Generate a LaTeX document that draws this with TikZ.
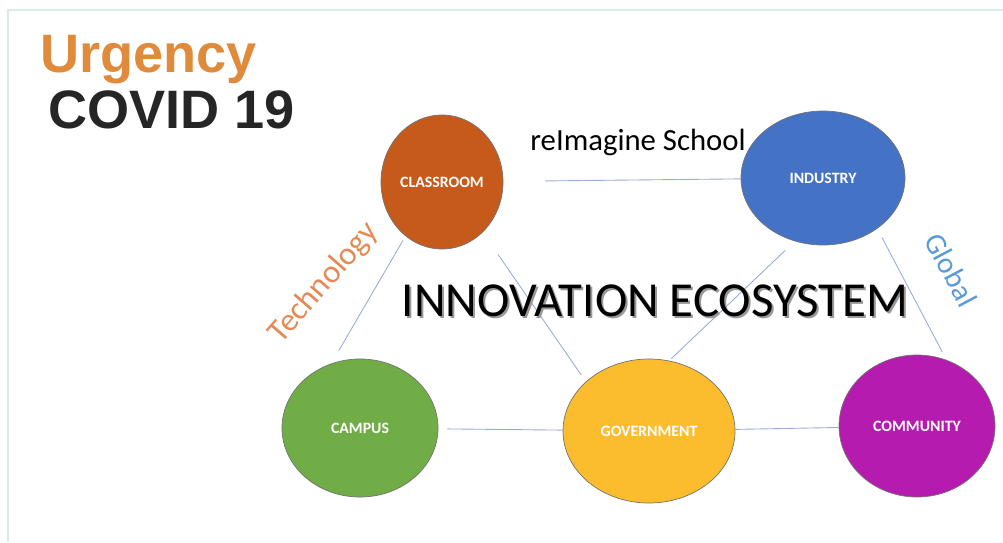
\documentclass[tikz,border=0pt]{standalone}
\usepackage{fontspec}
\setmainfont{Carlito}
\newfontfamily\headfont{Liberation Sans}
\usetikzlibrary{shapes.geometric}

\definecolor{urgorange}{HTML}{E08A3C}
\definecolor{headblack}{HTML}{262626}
\definecolor{framegreen}{HTML}{DCEBE6}
\definecolor{linkblue}{HTML}{97ACD8}
\definecolor{techorange}{HTML}{E58A55}
\definecolor{globalblue}{HTML}{5B9BD5}
\definecolor{classfill}{HTML}{C55A1B}
\definecolor{industryfill}{HTML}{4472C4}
\definecolor{campusfill}{HTML}{70AD47}
\definecolor{govfill}{HTML}{FBBD2E}
\definecolor{commfill}{HTML}{B51BAE}

% text with a grey drop shadow behind it
\newcommand{\shadowtext}[1]{\rlap{\hspace{0.04cm}\raisebox{-0.04cm}{\color{black!40}#1}}#1}

\tikzset{
    hub/.style={ellipse, draw=black!55, line width=0.4pt, inner sep=0pt,
        text=white, font=\fontsize{9}{10}\selectfont\bfseries},
    link/.style={draw=linkblue, line width=0.5pt}
}

\begin{document}
\begin{tikzpicture}[x=0.02cm, y=-0.02cm]
        % The page
        \useasboundingbox (0,0) rectangle (1003,542);
        \draw[framegreen, line width=0.04cm] (8,542) -- (8,10) -- (1003,10);

        % The headings
        \node[anchor=base west, inner sep=0pt, text=urgorange,
            font=\headfont\fontsize{30.8}{34}\selectfont\bfseries] (urgency) at (40,72) {Urgency};
        \node[anchor=base west, inner sep=0pt, text=headblack,
            font=\headfont\fontsize{30.8}{34}\selectfont\bfseries] (covid) at (48,128) {COVID 19};

        % The circles
        \node[hub, fill=classfill, minimum width=122*0.02cm, minimum height=134*0.02cm]
            (classroom) at (442,182) {CLASSROOM};
        \node[hub, fill=industryfill, minimum width=164*0.02cm, minimum height=134*0.02cm]
            (industry) at (823,178) {INDUSTRY};
        \node[hub, fill=campusfill, minimum width=156*0.02cm, minimum height=138*0.02cm]
            (campus) at (360,428) {CAMPUS};
        \node[hub, fill=govfill, minimum width=172*0.02cm, minimum height=144*0.02cm]
            (government) at (649,431) {GOVERNMENT};
        \node[hub, fill=commfill, minimum width=156*0.02cm, minimum height=142*0.02cm]
            (community) at (917,426) {COMMUNITY};

        % The edges
        \draw[link, shorten <=0.84cm] (classroom) -- (industry);
        \draw[link, shorten <=0.1cm, shorten >=0.3cm] (classroom.236) -- (campus.114);
        \draw[link, shorten <=0.54cm, shorten >=0.16cm] (classroom.-51) -- (government.142);
        \draw[link, shorten <=0.26cm, shorten >=0.06cm] (industry.246) -- (government.74);
        \draw[link, shorten <=0.2cm, shorten >=0.18cm] (industry.-43) -- (community.66);
        \draw[link, shorten <=0.18cm] (campus) -- (government);
        \draw[link] (government) -- (community);

        % The words between the circles
        \node[anchor=base west, inner sep=0pt, font=\fontsize{17.5}{20}\selectfont]
            (school) at (530,150) {reImagine School};
        \node[anchor=base, inner sep=0pt, font=\fontsize{27.8}{32}\selectfont]
            (ecosystem) at (655,316) {\shadowtext{INNOVATION ECOSYSTEM}};
        \node[rotate=49, text=techorange, font=\fontsize{18.5}{22}\selectfont]
            (technology) at (324,283) {Technology};
        \node[rotate=-62, text=globalblue, font=\fontsize{17}{20}\selectfont]
            (global) at (951,270) {Global};

\end{tikzpicture}
\end{document}
